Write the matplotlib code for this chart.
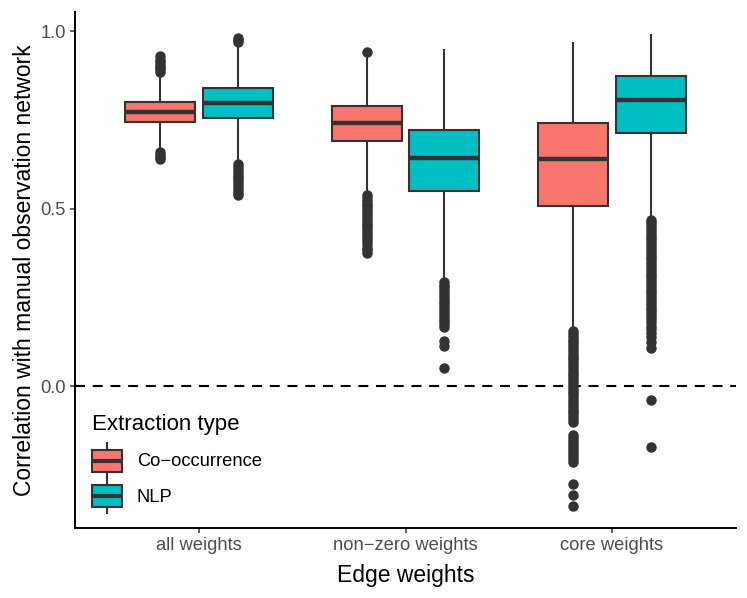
import matplotlib
matplotlib.use("Agg")
import matplotlib.pyplot as plt
from matplotlib.legend_handler import HandlerBase
from matplotlib.patches import Rectangle
from matplotlib.lines import Line2D

plt.rcParams['font.family'] = ['Liberation Sans', 'DejaVu Sans']

# ---------------- data ----------------
categories = ["all weights", "non\u2212zero weights", "core weights"]
series = ["Co\u2212occurrence", "NLP"]
colors = ["#F8766D", "#00BFC4"]

# summary statistics per category (Co-occurrence, NLP)
cooc_q1 = [0.744, 0.690, 0.507]
cooc_med = [0.772, 0.741, 0.639]
cooc_q3 = [0.800, 0.789, 0.741]
cooc_lo = [0.665, 0.545, 0.160]
cooc_hi = [0.880, 0.932, 0.966]

nlp_q1 = [0.755, 0.549, 0.713]
nlp_med = [0.797, 0.642, 0.806]
nlp_q3 = [0.839, 0.721, 0.873]
nlp_lo = [0.632, 0.300, 0.476]
nlp_hi = [0.962, 0.946, 0.989]

cooc_out_all = [0.885, 0.892, 0.899, 0.906, 0.913, 0.920, 0.929,
                0.660, 0.652, 0.645, 0.639]
cooc_out_nonzero = [0.940,
                    0.538, 0.530, 0.522, 0.514, 0.506, 0.498, 0.490, 0.482,
                    0.474, 0.466, 0.458, 0.450, 0.442, 0.434, 0.425, 0.416,
                    0.408, 0.400, 0.390, 0.383, 0.376]
cooc_out_core = [0.155, 0.147, 0.139, 0.131, 0.123, 0.115, 0.107, 0.099,
                 0.091, 0.083, 0.075, 0.067, 0.059, 0.051, 0.043, 0.035,
                 0.027, 0.019, 0.011, 0.003, -0.005, -0.013, -0.021, -0.029,
                 -0.037, -0.045, -0.053, -0.061, -0.069, -0.077, -0.085,
                 -0.093, -0.100,
                 -0.139, -0.147, -0.155, -0.163, -0.172, -0.180, -0.190,
                 -0.198, -0.206, -0.213,
                 -0.275, -0.306, -0.338]
nlp_out_all = [0.969, 0.975, 0.980,
               0.625, 0.617, 0.609, 0.601, 0.593, 0.585, 0.577, 0.569,
               0.561, 0.553, 0.545, 0.538]
nlp_out_nonzero = [0.294, 0.286, 0.278, 0.270, 0.262, 0.254, 0.246, 0.238,
                   0.230, 0.222, 0.214, 0.206, 0.198, 0.190, 0.182, 0.174,
                   0.165, 0.127, 0.113, 0.052]
nlp_out_core = [0.469, 0.461, 0.453, 0.445, 0.437, 0.429, 0.421, 0.413,
                0.405, 0.397, 0.389, 0.381, 0.373, 0.365, 0.357, 0.349,
                0.341, 0.333, 0.325, 0.317, 0.309, 0.301, 0.293, 0.285,
                0.277, 0.269, 0.261, 0.253, 0.245, 0.237, 0.229, 0.221,
                0.213, 0.205, 0.197, 0.189, 0.180, 0.170, 0.160, 0.150,
                0.138, 0.124, 0.106, -0.039, -0.171]

cooc_out = [cooc_out_all, cooc_out_nonzero, cooc_out_core]
nlp_out = [nlp_out_all, nlp_out_nonzero, nlp_out_core]

yticks = [0.0, 0.5, 1.0]
ytick_labels = ["0.0", "0.5", "1.0"]

# ---------------- figure ----------------
W, H = 747, 598
fig = plt.figure(figsize=(W / 100, H / 100), dpi=100)
ax = fig.add_axes([75 / W, (H - 528) / H, (736 - 75) / W, (528 - 12) / H])

edge = "#333333"
dodge = 0.1875
bw = 0.3375


def make_stats(q1, med, q3, lo, hi, out):
    return [dict(q1=a, med=b, q3=c, whislo=d, whishi=e, fliers=f)
            for a, b, c, d, e, f in zip(q1, med, q3, lo, hi, out)]


groups = [
    make_stats(cooc_q1, cooc_med, cooc_q3, cooc_lo, cooc_hi, cooc_out),
    make_stats(nlp_q1, nlp_med, nlp_q3, nlp_lo, nlp_hi, nlp_out),
]

ax.axhline(0, color="black", lw=1.5, ls=(0, (4.8, 3.7)), zorder=1)

for gi, (stats, col) in enumerate(zip(groups, colors)):
    pos = [i + 1 + (gi * 2 - 1) * dodge for i in range(len(categories))]
    ax.bxp(stats, positions=pos, widths=bw, patch_artist=True,
           showcaps=False, manage_ticks=False,
           boxprops=dict(facecolor=col, edgecolor=edge, linewidth=1.5),
           medianprops=dict(color=edge, linewidth=3.2, solid_capstyle="butt"),
           whiskerprops=dict(color=edge, linewidth=1.5),
           flierprops=dict(marker="o", markerfacecolor=edge,
                           markeredgecolor=edge, markersize=6.5,
                           linestyle="none"),
           zorder=2)

ax.set_xlim(0.4, 3.6)
ax.set_ylim(-0.40, 1.054)
ax.set_xticks([1, 2, 3])
ax.set_xticklabels(categories)
ax.set_yticks(yticks)
ax.set_yticklabels(ytick_labels)

for s in ["top", "right"]:
    ax.spines[s].set_visible(False)
for s in ["left", "bottom"]:
    ax.spines[s].set_linewidth(1.4)
    ax.spines[s].set_color("black")

ax.tick_params(axis="both", length=3.5, width=1.1, color=edge,
               labelcolor="#4D4D4D", labelsize=13.2, pad=3)

ax.set_xlabel("Edge weights", fontsize=16.5, labelpad=7)
ax.set_ylabel("Correlation with manual observation network",
              fontsize=16.5, labelpad=3)


class BoxHandler(HandlerBase):
    def create_artists(self, legend, orig_handle, xdescent, ydescent,
                       width, height, fontsize, trans):
        cx = -xdescent + width / 2
        cy = -ydescent + height / 2
        rh = height * 0.68
        wl = Line2D([cx, cx], [-ydescent - 1, -ydescent + height + 1],
                    color=edge, lw=1.5, transform=trans)
        rect = Rectangle((-xdescent, cy - rh / 2), width, rh,
                         facecolor=orig_handle.get_facecolor(),
                         edgecolor=edge, lw=1.5, transform=trans)
        med = Line2D([-xdescent, -xdescent + width], [cy, cy],
                     color=edge, lw=3.0, transform=trans,
                     solid_capstyle="butt")
        return [wl, rect, med]


handles = [Rectangle((0, 0), 1, 1, facecolor=c) for c in colors]
leg = ax.legend(handles, series, handler_map={Rectangle: BoxHandler()},
                title="Extraction type", loc="lower left",
                bbox_to_anchor=(0.026, 0.031), borderaxespad=0,
                borderpad=0, frameon=False, fontsize=13.2,
                title_fontsize=16, handlelength=1.64, handleheight=2.33,
                labelspacing=0.16, handletextpad=0.8, alignment="left")
leg._legend_box.sep = 7

fig.savefig("out.png", dpi=100)
